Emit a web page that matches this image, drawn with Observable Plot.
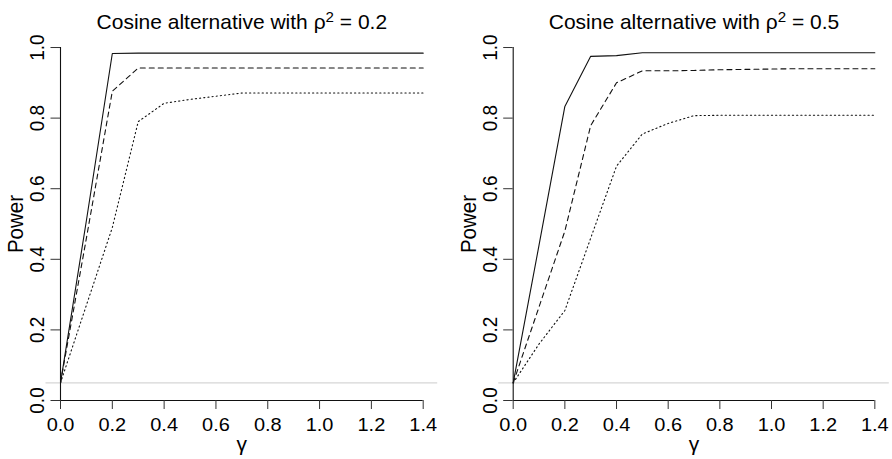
<!DOCTYPE html>
<html>
<head>
<meta charset="utf-8">
<script src="https://cdn.jsdelivr.net/npm/d3@7"></script>
<script src="https://cdn.jsdelivr.net/npm/@observablehq/plot@0.6"></script>
<style>
  html, body { margin: 0; padding: 0; background: #fff; }
  #wrap { display: flex; width: 892px; height: 459px; }
  #wrap svg { display: block; }
</style>
</head>
<body>
<div id="wrap"></div>
<script>
// ---- data ----
const gamma = [0, 0.1, 0.2, 0.3, 0.4, 0.5, 0.6, 0.7, 0.8, 0.9, 1.0, 1.1, 1.2, 1.3, 1.4];
const xTicks = [0, 0.2, 0.4, 0.6, 0.8, 1.0, 1.2, 1.4];
const yTicks = [0, 0.2, 0.4, 0.6, 0.8, 1.0];
const nullLevel = 0.05;
const rho2 = [0.2, 0.5];
const titles = ["Cosine alternative with ρ² = 0.2", "Cosine alternative with ρ² = 0.5"];
const xLabel = "γ";
const yLabel = "Power";

// panel 1: rho^2 = 0.2
const p1Solid  = [0.05, 0.51, 0.983, 0.984, 0.984, 0.984, 0.984, 0.984, 0.984, 0.984, 0.984, 0.984, 0.984, 0.984, 0.984];
const p1Dashed = [0.05, 0.46, 0.876, 0.942, 0.942, 0.942, 0.942, 0.942, 0.942, 0.942, 0.942, 0.942, 0.942, 0.942, 0.942];
const p1Dotted = [0.05, 0.27, 0.49, 0.79, 0.842, 0.853, 0.862, 0.871, 0.871, 0.871, 0.871, 0.871, 0.871, 0.871, 0.871];
// panel 2: rho^2 = 0.5
const p2Solid  = [0.05, 0.44, 0.833, 0.975, 0.977, 0.985, 0.985, 0.985, 0.985, 0.985, 0.985, 0.985, 0.985, 0.985, 0.985];
const p2Dashed = [0.05, 0.265, 0.48, 0.779, 0.90, 0.934, 0.934, 0.935, 0.937, 0.938, 0.939, 0.940, 0.940, 0.940, 0.940];
const p2Dotted = [0.05, 0.16, 0.255, 0.46, 0.664, 0.755, 0.785, 0.807, 0.808, 0.808, 0.808, 0.808, 0.808, 0.808, 0.808];

const seriesNames = ["solid", "dashed", "dotted"];
const dashes = {solid: null, dashed: "5,4", dotted: "1.2,3"};

const FONT = "'Liberation Sans', Arial, Helvetica, sans-serif";
const STRETCH = 1.05;
const fmt = d3.format(".1f");

function panel(title, values, ml, mr) {
  const rows = [];
  seriesNames.forEach((name, k) => {
    gamma.forEach((g, i) => rows.push({gamma: g, power: values[k][i], series: name}));
  });
  const svg = Plot.plot({
    width: 446,
    height: 459,
    marginLeft: ml,
    marginRight: mr,
    marginTop: 32.9,
    marginBottom: 59,
    x: {domain: [0, 1.456], label: null},
    y: {domain: [0, 1.04], label: null},
    style: {fontFamily: FONT, fontSize: "19px", color: "#000", background: "#fff", overflow: "visible"},
    marks: [
      Plot.ruleY([nullLevel], {x1: -0.056, x2: 1.456, stroke: "#d6d6d6", strokeWidth: 1.2}),
      ...seriesNames.map(name =>
        Plot.line(rows.filter(d => d.series === name), {
          x: "gamma", y: "power", stroke: "#111", strokeWidth: 1.1,
          strokeDasharray: dashes[name]
        })
      ),
      Plot.ruleY([0], {x1: 0, x2: 1.4, stroke: "#111", strokeWidth: 1.1}),
      Plot.ruleX([0], {y1: 0, y2: 1, stroke: "#111", strokeWidth: 1.1}),
      Plot.axisX(xTicks, {tickSize: 9, tickPadding: 7.5, tickFormat: fmt, fontSize: 19, label: null, stroke: "#333"}),
      Plot.axisY(yTicks, {tickSize: 9.5, tickPadding: 13, tickFormat: fmt, fontSize: 19, label: null,
        tickRotate: -90, textAnchor: "middle", lineAnchor: "middle", stroke: "#333"}),
      Plot.text([title], {x: 0.7, frameAnchor: "top", dy: -11, fontSize: 20,
        textAnchor: "middle", lineAnchor: "middle", text: d => d}),
      Plot.text([yLabel], {y: 0.5, frameAnchor: "left", dx: -44.5, rotate: -90, fontSize: 20.5,
        textAnchor: "middle", lineAnchor: "middle", text: d => d}),
      Plot.text([xLabel], {x: 0.7, frameAnchor: "bottom", dy: 44, fontSize: 20,
        textAnchor: "middle", lineAnchor: "middle", text: d => d})
    ]
  });
  // superscript in title + slight horizontal stretch of text to match reference
  svg.querySelectorAll("text").forEach(t => {
    const s = t.textContent;
    if (s.indexOf("²") >= 0) {
      const [a, b] = s.split("²");
      while (t.firstChild) t.removeChild(t.firstChild);
      const ns = "http://www.w3.org/2000/svg";
      const t1 = document.createElementNS(ns, "tspan"); t1.textContent = a;
      const t2 = document.createElementNS(ns, "tspan"); t2.textContent = "2";
      t2.setAttribute("dy", "-0.45em"); t2.setAttribute("font-size", "0.72em");
      const t3 = document.createElementNS(ns, "tspan"); t3.textContent = b;
      t3.setAttribute("dy", "0.33em");
      t.append(t1, t2, t3);
    }
    const tr = t.getAttribute("transform");
    if (tr && /^translate\([^)]*\)/.test(tr)) {
      t.setAttribute("transform", tr.replace(/^(translate\([^)]*\))/, `$1 scale(${STRETCH},1)`));
    }
  });
  return svg;
}

const wrap = document.getElementById("wrap");
wrap.append(panel(titles[0], [p1Solid, p1Dashed, p1Dotted], 60, 8.8));
wrap.append(panel(titles[1], [p2Solid, p2Dashed, p2Dotted], 66.7, 3.2));
</script>
</body>
</html>
